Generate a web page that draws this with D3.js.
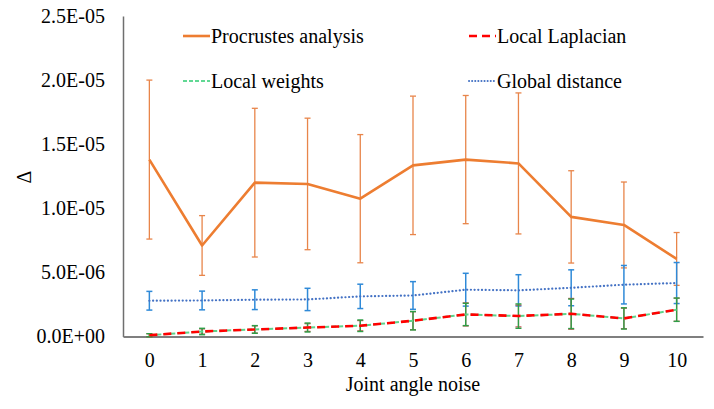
<!DOCTYPE html>
<html><head><meta charset="utf-8">
<script src="https://cdn.jsdelivr.net/npm/d3@7"></script>
<style>body{margin:0;background:#fff}svg{display:block}</style>
</head><body><svg id="c" width="714" height="409"></svg>
<script>
const categories = ["0","1","2","3","4","5","6","7","8","9","10"];
const yTicks = [0, 5e-6, 1e-5, 1.5e-5, 2e-5, 2.5e-5];
const yTickLabels = ["0.0E+00","5.0E-06","1.0E-05","1.5E-05","2.0E-05","2.5E-05"];
const procrustes = [13.8,7.1,12.0,11.9,10.75,13.35,13.8,13.5,9.33,8.7,6.05];
const procrustesErr = [6.2,2.33,5.8,5.13,5.0,5.4,5.0,5.5,3.6,3.35,2.06];
const laplacian = [0.1,0.39,0.55,0.7,0.84,1.23,1.72,1.6,1.77,1.41,2.09];
const laplacianErr = [0.12,0.2,0.28,0.3,0.4,0.7,0.9,0.85,1.2,0.8,0.9];
const weights = [0.1,0.39,0.55,0.7,0.84,1.23,1.72,1.59,1.77,1.41,2.09];
const weightsErr = [0.12,0.25,0.3,0.35,0.45,0.72,0.87,0.95,1.15,0.83,0.91];
const globalDist = [2.79,2.81,2.87,2.89,3.13,3.2,3.65,3.6,3.8,4.04,4.17];
const globalErr = [0.73,0.73,0.77,0.87,0.95,1.08,1.28,1.22,1.4,1.5,1.6];
const seriesNames = ["Procrustes analysis","Local Laplacian","Local weights","Global distance"];
const xTitle = "Joint angle noise";
const yTitle = "\u0394";
const unit = 1e-6;

const FONT = '"Liberation Serif"';
const FS = "20px";
const svg = d3.select("#c");
const x = d3.scalePoint().domain(categories).range([123,703]).padding(0.5);
const y = d3.scaleLinear().domain([0,2.5e-5]).range([336.5,16]);

// axes
const yAxis = svg.append("g").attr("transform","translate(123,0)")
  .call(d3.axisLeft(y).tickValues(yTicks).tickSize(0).tickPadding(18)
    .tickFormat((d,i)=>yTickLabels[i]));
yAxis.attr("font-family","Liberation Serif").attr("font-size",FS);
yAxis.select(".domain").attr("stroke","#6f6f6f").attr("stroke-width",1.5);
yAxis.selectAll("text").style("font-size",FS).style("font-family",FONT).attr("fill","#000");

const xAxis = svg.append("g").attr("transform","translate(0,336.5)")
  .call(d3.axisBottom(x).tickSize(0).tickPadding(16));
xAxis.attr("font-family","Liberation Serif").attr("font-size",FS);
xAxis.select(".domain").attr("stroke","#7f7f7f").attr("stroke-width",2);
xAxis.selectAll("text").style("font-size",FS).style("font-family",FONT).attr("fill","#000");

svg.append("text").attr("x",413).attr("y",391).attr("text-anchor","middle")
  .attr("font-family","Liberation Serif").style("font-size",FS).style("font-family",FONT).text(xTitle);
svg.append("text").attr("transform","translate(31,177) rotate(-90)").attr("text-anchor","middle")
  .attr("font-family","Liberation Serif").style("font-size",FS).style("font-family",FONT).text(yTitle);

function errBars(vals, errs, color, w){
  const g = svg.append("g").attr("stroke",color).attr("stroke-width",w).attr("fill","none");
  categories.forEach((c,i)=>{
    const cx = x(c), t = y((vals[i]+errs[i])*unit), b = y((vals[i]-errs[i])*unit);
    g.append("line").attr("x1",cx).attr("x2",cx).attr("y1",t).attr("y2",b);
    g.append("line").attr("x1",cx-3).attr("x2",cx+3).attr("y1",t).attr("y2",t);
    g.append("line").attr("x1",cx-3).attr("x2",cx+3).attr("y1",b).attr("y2",b);
  });
}
const line = d3.line().x((d,i)=>x(categories[i])).y(d=>y(d*unit));

errBars(procrustes, procrustesErr, "#e8854a", 1.3);
errBars(globalDist, globalErr, "#2f8ad8", 1.5);
errBars(laplacian, laplacianErr, "#c0504d", 1.2);
errBars(weights, weightsErr, "#2e9e46", 1.4);

svg.append("path").datum(procrustes).attr("d",line).attr("fill","none")
  .attr("stroke","#ed7d31").attr("stroke-width",2.6).attr("stroke-linejoin","round");
svg.append("path").datum(globalDist).attr("d",line).attr("fill","none")
  .attr("stroke","#4472c4").attr("stroke-width",2.2).attr("stroke-dasharray","0.1 3.6").attr("stroke-linecap","round");
svg.append("path").datum(weights).attr("d",line).attr("fill","none")
  .attr("stroke","#5ed38a").attr("stroke-width",2).attr("stroke-dasharray","5 2");
svg.append("path").datum(laplacian).attr("d",line).attr("fill","none")
  .attr("stroke","#ff0000").attr("stroke-width",2.6).attr("stroke-dasharray","8 6");

// legend
const legend = [
  {name:seriesNames[0], x:183, y:36, color:"#ed7d31", w:2.6, dash:null, cap:"butt"},
  {name:seriesNames[1], x:469, y:36, color:"#ff0000", w:2.6, dash:"8 5", cap:"butt"},
  {name:seriesNames[2], x:183, y:81, color:"#2ecc71", w:1.5, dash:"4 2", cap:"butt"},
  {name:seriesNames[3], x:469, y:81, color:"#4472c4", w:2, dash:"0.1 3", cap:"round"}
];
legend.forEach(l=>{
  svg.append("line").attr("x1",l.x).attr("x2",l.x+27).attr("y1",l.y).attr("y2",l.y)
    .attr("stroke",l.color).attr("stroke-width",l.w).attr("stroke-dasharray",l.dash).attr("stroke-linecap",l.cap);
  svg.append("text").attr("x",l.x+28).attr("y",l.y).attr("dy","0.35em")
    .attr("font-family","Liberation Serif").style("font-size",FS).style("font-family",FONT).text(l.name);
});
</script></body></html>
